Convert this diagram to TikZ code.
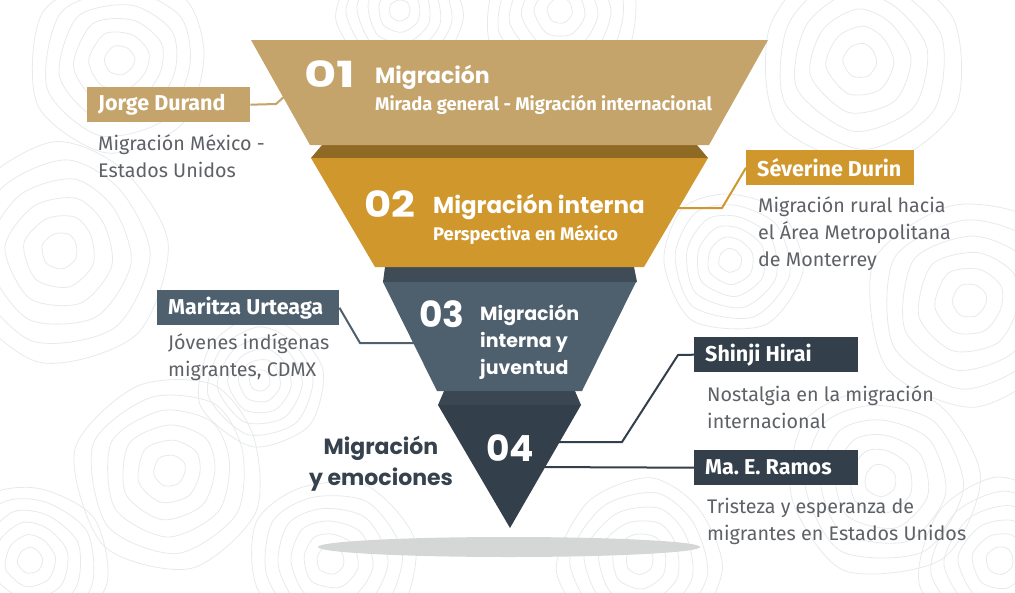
\documentclass[tikz,border=0pt]{standalone}
\usepackage{fontspec}
\setmainfont{Fira Sans}
\newfontfamily\geo{Poppins}
\usetikzlibrary{calc}
\frenchspacing
\definecolor{tan}{HTML}{C4A46B}
\definecolor{tandark}{HTML}{8F6A25}
\definecolor{ochre}{HTML}{CF972C}
\definecolor{slateband}{HTML}{3F4C58}
\definecolor{slate}{HTML}{4E5F6E}
\definecolor{slatebandb}{HTML}{3A4651}
\definecolor{navy}{HTML}{333F4A}
\definecolor{txtgray}{HTML}{5E6166}
\definecolor{contourc}{HTML}{E7EAED}
\definecolor{shadowgray}{HTML}{D5D6D6}
\definecolor{headc}{HTML}{36424D}
\tikzset{
  labelbox/.style={fill=#1, text=white, font=\bfseries\fontsize{21.5}{24}\selectfont,
    minimum height=35pt, inner xsep=11pt, inner ysep=0pt, anchor=north west},
  desc/.style={text=txtgray, font=\fontsize{19.7}{27}\selectfont, anchor=base west, align=left, inner sep=0pt},
  num/.style={text=white, font=\geo\bfseries\fontsize{36}{36}\selectfont, anchor=base west, inner sep=0pt},
  ttl/.style={text=white, font=\geo\bfseries\fontsize{#1}{27}\selectfont, anchor=base west, inner sep=0pt, align=left},
  sub/.style={text=white, font=\bfseries\fontsize{18.3}{20}\selectfont, anchor=base west, inner sep=0pt},
  conn/.style={draw=#1, line width=2pt, line join=miter},
  contourline/.style={draw=contourc, line width=0.8pt},
}
\begin{document}
\frenchspacing
\begin{tikzpicture}[x=1pt,y=-1pt]
\useasboundingbox (0,0) rectangle (1015,592);
\fill[white] (0,0) rectangle (1015,592);
% background contour pattern
\begin{scope}
\clip (0,0) rectangle (1015,592);
\foreach \cx/\cy/\r/\s in {60/250/10/1.7, 170/470/-20/1.5, 30/560/40/1.2, 330/560/70/1.3,
  860/60/30/1.6, 970/300/-30/1.6, 880/480/60/1.5, 640/560/0/1.3, 560/10/20/1.2,
  120/60/-40/1.4, 260/380/15/1.0, 730/260/50/1.1, 1000/560/10/1.3, 400/10/0/1.0}{
  \foreach \k in {1,...,6}{
    \begin{scope}[shift={(\cx,\cy)}, rotate=\r+7*\k, scale=\s*\k]
      \draw[contourline] plot[smooth cycle] coordinates {(10,0) (7,8) (-2,11) (-10,5) (-9,-6) (0,-10) (8,-7)};
    \end{scope}
  }
}
\end{scope}
% shadow
\fill[shadowgray] (509,547) ellipse [x radius=191, y radius=10];
% label boxes
\node[labelbox=tan] (jorge) at (87,87) {\makebox[141pt][l]{Jorge Durand}};
\node[labelbox=ochre] (severine) at (746,150) {\makebox[146pt][l]{Séverine Durin}};
\node[labelbox=slate] (maritza) at (157,290) {\makebox[160pt][l]{Maritza Urteaga}};
\node[labelbox=navy] (shinji) at (694,337) {\makebox[142pt][l]{Shinji Hirai}};
\node[labelbox=navy] (ramos) at (694,450) {\makebox[142pt][l]{Ma. E. Ramos}};
% descriptions (anchor = baseline of last line)
\node[desc] (djorge) at (98,177) {Migración México -\\Estados Unidos};
\node[desc] (dseverine) at (758,266) {Migración rural hacia\\el Área Metropolitana\\de Monterrey};
\node[desc] (dmaritza) at (168,376) {Jóvenes indígenas\\migrantes, CDMX};
\node[desc] (dshinji) at (707,428) {Nostalgia en la migración\\internacional};
\node[desc] (dramos) at (707,540) {Tristeza y esperanza de\\migrantes en Estados Unidos};
% connector anchor points
\coordinate (j1) at (276,104);
\coordinate (j2) at (296,86);
\coordinate (s1) at (722,208);
\coordinate (s2) at (670,208);
\coordinate (m1) at (360,343);
\coordinate (m2) at (425,343);
\coordinate (h1) at (678,355);
\coordinate (h2) at (622,442);
\coordinate (h3) at (545,442);
\coordinate (r1) at (535,467);
% connectors
\draw[conn=tan] (jorge.east) -- (j1) -- (j2);
\draw[conn=ochre] (severine.west) -- (s1) -- (s2);
\draw[conn=slate] (maritza.east) -- (m1) -- (m2);
\draw[conn=navy] (shinji.west) -- (h1) -- (h2) -- (h3);
\draw[conn=navy] (ramos.west) -- (r1);
% funnel
\fill[tandark] (322,145) -- (697,145) -- (708,158) -- (311,158) -- cycle;
\fill[tan] (251,40) -- (768,40) -- (709,145) -- (310,145) -- cycle;
\fill[slateband] (385,267) -- (634,267) -- (637,282) -- (383,282) -- cycle;
\fill[ochre] (311,158) -- (708,158) -- (644,267) -- (375,267) -- cycle;
\fill[slatebandb] (444,391) -- (575,391) -- (581,405) -- (438,405) -- cycle;
\fill[slate] (383,282) -- (636,282) -- (582,391) -- (437,391) -- cycle;
\fill[navy] (438,405) -- (581,405) -- (510,528) -- cycle;
% funnel texts
\node[num] (n1) at (304,87) {\scalebox{1.38}[1]{01}};
\node[ttl=22] (t1) at (375,83) {Migración};
\node[sub] (st1) at (375,110) {Mirada general - Migración internacional};
\node[num] (n2) at (364,217) {\scalebox{1.16}[1]{02}};
\node[ttl=23] (t2) at (433,213) {Migración interna};
\node[sub] (st2) at (433,240) {Perspectiva en México};
\node[num] (n3) at (419,327) {03};
\node[ttl=19] (t3) at (480,374) {Migración\\interna y\\juventud};
\node[num] (n4) at (486,461) {04};
\node[text=headc, font=\geo\bfseries\fontsize{22}{31}\selectfont, align=center, anchor=base, inner sep=0pt] (t4) at (381,485) {Migración\\y emociones};
\end{tikzpicture}
\end{document}
